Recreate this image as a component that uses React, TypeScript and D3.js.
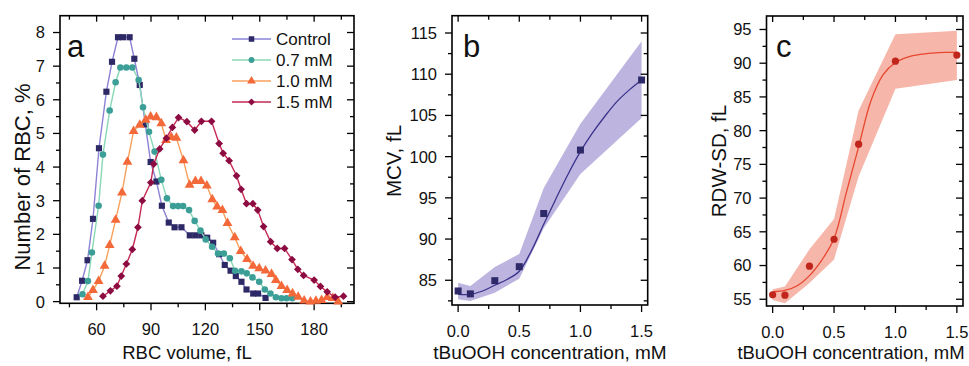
import * as d3 from "d3";
import React from "react";

// panel a: RBC volume distributions
const ctrlVol = [49, 52, 55, 58, 61.3, 65.4, 68.5, 71.8, 74.5, 78.2, 80.8, 83.8, 86.9, 89.8, 93, 96, 99.8, 103, 106.8, 111.4, 114.6, 117.8, 121, 124.3, 127.6, 130.7, 133.9, 136.8, 139.9, 142.7, 146.4, 149.1, 153.2];
const ctrlVal = [0.13, 0.62, 1.23, 2.46, 4.56, 6.24, 7.13, 7.86, 7.86, 7.86, 7.22, 6.44, 5.27, 4.15, 3.57, 2.85, 2.35, 2.21, 2.21, 1.97, 1.97, 1.97, 1.9, 1.75, 1.41, 1.09, 0.92, 0.76, 0.59, 0.36, 0.24, 0.24, 0.11];

const m07Vol = [52.2, 55.2, 57.4, 61.1, 63.5, 67.2, 70.5, 73.1, 76.4, 79.7, 83.2, 85.6, 88.9, 92, 95.7, 98.8, 102.2, 105, 107.7, 111, 114.1, 117.3, 120.2, 123.7, 127, 130.2, 133.5, 136.4, 139.9, 142.8, 146, 149.7, 152.8, 155.9, 158.9, 162, 164.8, 167.9];
const m07Val = [0.22, 0.61, 1.46, 2.85, 4.37, 5.68, 6.52, 6.96, 6.96, 6.96, 6.59, 5.78, 5.05, 4.46, 3.62, 3.07, 2.84, 2.84, 2.84, 2.72, 2.4, 2.11, 1.85, 1.63, 1.43, 1.43, 1.29, 0.92, 0.9, 0.84, 0.72, 0.59, 0.36, 0.24, 0.13, 0.1, 0.1, 0.1];

const m10Vol = [55.2, 58, 61.1, 64.4, 67.2, 70.5, 74, 77, 80.4, 83.8, 87.1, 89.8, 93, 95.7, 98.3, 101.2, 104, 107.9, 111.3, 114.5, 117.6, 120.8, 123.8, 126.5, 129.4, 132.2, 136.2, 139.5, 143, 146.3, 149.7, 153.2, 156.5, 158.9, 162, 165.1, 168.1, 171.2, 174.5, 178, 181, 184.1, 187.2, 190.3, 193.3];
const m10Val = [0.13, 0.34, 0.61, 1.06, 1.68, 2.43, 3.24, 4.15, 5.07, 5.25, 5.4, 5.5, 5.48, 5.3, 4.8, 4.89, 4.87, 4.2, 3.47, 3.58, 3.58, 3.45, 3.04, 2.82, 2.72, 2.33, 1.91, 1.5, 1.26, 1.06, 0.99, 0.92, 0.82, 0.64, 0.46, 0.34, 0.24, 0.14, 0.03, 0, 0.02, 0.04, 0.13, 0.1, 0];

const m15Vol = [63.5, 67.6, 71.2, 73.6, 76.4, 79.7, 82.8, 85.2, 89.9, 91.5, 94.8, 98.5, 101.8, 105.2, 109.8, 114.1, 117.8, 123.4, 127.6, 129.8, 133.1, 137.2, 139.7, 142.7, 146.2, 148.9, 152.1, 156, 159.7, 163.7, 167.8, 171, 174.2, 180, 183.5, 187.2, 191.6, 196.2];
const m15Val = [0.16, 0.32, 0.46, 0.76, 1.12, 1.55, 2.21, 3.0, 3.54, 4.09, 4.54, 4.86, 5.18, 5.47, 5.35, 5.1, 5.36, 5.36, 4.7, 4.41, 4.19, 3.74, 3.34, 2.91, 2.91, 2.72, 2.23, 1.78, 1.58, 1.58, 1.25, 0.96, 0.78, 0.64, 0.45, 0.29, 0.13, 0.16];

const seriesNames = ["Control", "0.7 mM", "1.0 mM", "1.5 mM"];

// panels b, c
const conc = [0, 0.1, 0.3, 0.5, 0.7, 1.0, 1.5];
const mcv = [83.7, 83.35, 84.95, 86.65, 93.1, 100.8, 109.3];
const mcvHi = [84.7, 84.3, 86.6, 88.2, 96.2, 104.0, 114.0];
const mcvLo = [82.7, 82.5, 83.5, 85.2, 91.3, 97.9, 104.7];
const rdw = [55.65, 55.6, 59.9, 63.9, 78.0, 90.3, 91.2];
const rdwHi = [56.5, 56.9, 62.4, 66.9, 83.0, 94.3, 94.8];
const rdwLo = [54.9, 54.4, 57.4, 60.9, 73.2, 86.2, 87.5];

const fitX = [0, 0.1, 0.2, 0.3, 0.4, 0.5, 0.6, 0.7, 0.8, 0.9, 1.0, 1.1, 1.2, 1.3, 1.4, 1.5];
const mcvFit = [83.3, 83.3, 83.7, 84.4, 85.1, 86.1, 88.6, 91.8, 94.9, 97.9, 100.6, 102.9, 104.9, 106.7, 108.1, 109.3];
const rdwFit = [56.1, 56.3, 57.0, 58.5, 60.8, 64.0, 70.8, 77.6, 84.4, 88.3, 90.1, 90.9, 91.3, 91.5, 91.6, 91.6];

const FONT = "Liberation Sans, Arial, sans-serif";

type FrameProps = {
  x: d3.ScaleLinear<number, number>;
  y: d3.ScaleLinear<number, number>;
  xMajor: number[];
  xMinor: number[];
  yMajor: number[];
  yMinor: number[];
  xFmt: (v: number) => string;
};

const Frame: React.FC<FrameProps> = ({ x, y, xMajor, xMinor, yMajor, yMinor, xFmt }) => {
  const [x0, x1] = x.range();
  const [y0, y1] = y.range();
  const big = 7, small = 4;
  return (
    <g stroke="#000" strokeWidth={1.3} fill="none">
      {xMajor.map(v => <line key={"xb" + v} x1={x(v)} x2={x(v)} y1={y0} y2={y0 + big} />)}
      {xMinor.map(v => <line key={"xm" + v} x1={x(v)} x2={x(v)} y1={y0} y2={y0 + small} />)}
      {xMajor.map(v => <line key={"xt" + v} x1={x(v)} x2={x(v)} y1={y1} y2={y1 + big - 1} />)}
      {xMinor.map(v => <line key={"xtm" + v} x1={x(v)} x2={x(v)} y1={y1} y2={y1 + small} />)}
      {yMajor.map(v => <line key={"yb" + v} y1={y(v)} y2={y(v)} x1={x0} x2={x0 - big} />)}
      {yMinor.map(v => <line key={"ym" + v} y1={y(v)} y2={y(v)} x1={x0} x2={x0 - small} />)}
      {yMajor.map(v => <line key={"yr" + v} y1={y(v)} y2={y(v)} x1={x1} x2={x1 - big} />)}
      {yMinor.map(v => <line key={"yrm" + v} y1={y(v)} y2={y(v)} x1={x1} x2={x1 - small} />)}
      <rect x={x0} y={y1} width={x1 - x0} height={y0 - y1} strokeWidth={1.6} />
      <g stroke="none" fill="#111" fontFamily={FONT} fontSize={16.5}>
        {xMajor.map(v => <text key={"xl" + v} x={x(v)} y={y0 + 32} textAnchor="middle">{xFmt(v)}</text>)}
        {yMajor.map(v => <text key={"yl" + v} x={x0 - 15} y={y(v)} dy="0.36em" textAnchor="end">{v}</text>)}
      </g>
    </g>
  );
};

const App: React.FC = () => {
  // panel a
  const xa = d3.scaleLinear([39.8, 202], [60, 354]);
  const ya = d3.scaleLinear([-0.05, 8.5], [303.3, 15.7]);
  const sets = [
    { vol: ctrlVol, val: ctrlVal, line: "#8d83d6", mark: "#2d2966", sym: d3.symbolSquare, size: 38, rot: 0 },
    { vol: m07Vol, val: m07Val, line: "#88d7b6", mark: "#3c9f97", sym: d3.symbolCircle, size: 34, rot: 0 },
    { vol: m10Vol, val: m10Val, line: "#f7a05c", mark: "#f3693a", sym: d3.symbolTriangle, size: 42, rot: 0 },
    { vol: m15Vol, val: m15Val, line: "#c52a55", mark: "#8c0b40", sym: d3.symbolSquare, size: 30, rot: 45 },
  ];

  // panels b, c
  const xb = d3.scaleLinear([-0.05, 1.55], [452, 647.7]);
  const yb = d3.scaleLinear([82, 117.1], [305, 15.7]);
  const xc = d3.scaleLinear([-0.05, 1.55], [766.5, 963]);
  const yc = d3.scaleLinear([54, 97], [306, 16]);

  const band = (xs: d3.ScaleLinear<number, number>, ys: d3.ScaleLinear<number, number>, lo: number[], hi: number[]) =>
    d3.area<number>().x((_, i) => xs(conc[i])).y0((_, i) => ys(lo[i])).y1((_, i) => ys(hi[i]))(conc) || "";
  const fit = (xs: d3.ScaleLinear<number, number>, ys: d3.ScaleLinear<number, number>, vals: number[]) =>
    d3.line<number>().x((_, i) => xs(fitX[i])).y(d => ys(d)).curve(d3.curveCatmullRom)(vals) || "";

  const fmt1 = d3.format(".1f");

  return (
    <svg width={969} height={366} style={{ position: "absolute", left: 0, top: 0, background: "#fff" }}>
      {/* panel a */}
      <Frame x={xa} y={ya} xMajor={[60, 90, 120, 150, 180]} xMinor={[45, 75, 105, 135, 165, 195]}
        yMajor={d3.range(0, 9)} yMinor={d3.range(0.5, 8.5, 1)} xFmt={v => String(v)} />
      {sets.map((s, k) => {
        const pts = s.vol.map((v, i) => [xa(v), ya(s.val[i])] as [number, number]);
        const sym = d3.symbol(s.sym, s.size)() || "";
        return (
          <g key={"s" + k}>
            <path d={d3.line()(pts) || ""} fill="none" stroke={s.line} strokeWidth={1.4} />
            {pts.map((p, i) => <path key={i} d={sym} fill={s.mark} transform={`translate(${p[0]},${p[1]}) rotate(${s.rot})`} />)}
          </g>
        );
      })}
      <text x={67} y={57} fontFamily={FONT} fontSize={31} fill="#111">a</text>
      {sets.map((s, k) => {
        const yy = 39 + k * 21;
        const sym = d3.symbol(s.sym, s.size * 0.8)() || "";
        return (
          <g key={"lg" + k}>
            <line x1={232} x2={271} y1={yy} y2={yy} stroke={s.line} strokeWidth={1.4} />
            <path d={sym} fill={s.mark} transform={`translate(251.5,${yy}) rotate(${s.rot})`} />
            <text x={276} y={yy} dy="0.36em" fontFamily={FONT} fontSize={17} fill="#111">{seriesNames[k]}</text>
          </g>
        );
      })}
      <text x={187} y={359} textAnchor="middle" fontFamily={FONT} fontSize={18.5} fill="#111">RBC volume, fL</text>
      <text transform="translate(22,177) rotate(-90)" textAnchor="middle" dy="0.36em" fontFamily={FONT} fontSize={22} fill="#111">Number of RBC, %</text>

      {/* panel b */}
      <path d={band(xb, yb, mcvLo, mcvHi)} fill="#bdb5df" />
      <path d={fit(xb, yb, mcvFit)} fill="none" stroke="#3b338c" strokeWidth={1.3} />
      {conc.map((c, i) => <rect key={"b" + i} x={xb(c) - 3.5} y={yb(mcv[i]) - 3.5} width={7} height={7} fill="#2e2a6a" />)}
      <Frame x={xb} y={yb} xMajor={[0, 0.5, 1, 1.5]} xMinor={[0.25, 0.75, 1.25]}
        yMajor={[85, 90, 95, 100, 105, 110, 115]} yMinor={[82.5, 87.5, 92.5, 97.5, 102.5, 107.5, 112.5]} xFmt={fmt1} />
      <text x={463} y={57} fontFamily={FONT} fontSize={31} fill="#111">b</text>
      <text x={550} y={359} textAnchor="middle" fontFamily={FONT} fontSize={19} fill="#111">tBuOOH concentration, mM</text>
      <text transform="translate(394,161) rotate(-90)" textAnchor="middle" dy="0.36em" fontFamily={FONT} fontSize={20.5} fill="#111">MCV, fL</text>

      {/* panel c */}
      <path d={band(xc, yc, rdwLo, rdwHi)} fill="#f6b6aa" />
      <path d={fit(xc, yc, rdwFit)} fill="none" stroke="#e8472f" strokeWidth={1.3} />
      {conc.map((c, i) => <circle key={"c" + i} cx={xc(c)} cy={yc(rdw[i])} r={3.6} fill="#c0261b" />)}
      <Frame x={xc} y={yc} xMajor={[0, 0.5, 1, 1.5]} xMinor={[0.25, 0.75, 1.25]}
        yMajor={[55, 60, 65, 70, 75, 80, 85, 90, 95]} yMinor={[57.5, 62.5, 67.5, 72.5, 77.5, 82.5, 87.5, 92.5]} xFmt={fmt1} />
      <text x={776} y={57} fontFamily={FONT} fontSize={31} fill="#111">c</text>
      <text x={851} y={359} textAnchor="middle" fontFamily={FONT} fontSize={18.5} fill="#111">tBuOOH concentration, mM</text>
      <text transform="translate(719,161) rotate(-90)" textAnchor="middle" dy="0.36em" fontFamily={FONT} fontSize={20.5} fill="#111">RDW-SD, fL</text>
    </svg>
  );
};

export default App;
